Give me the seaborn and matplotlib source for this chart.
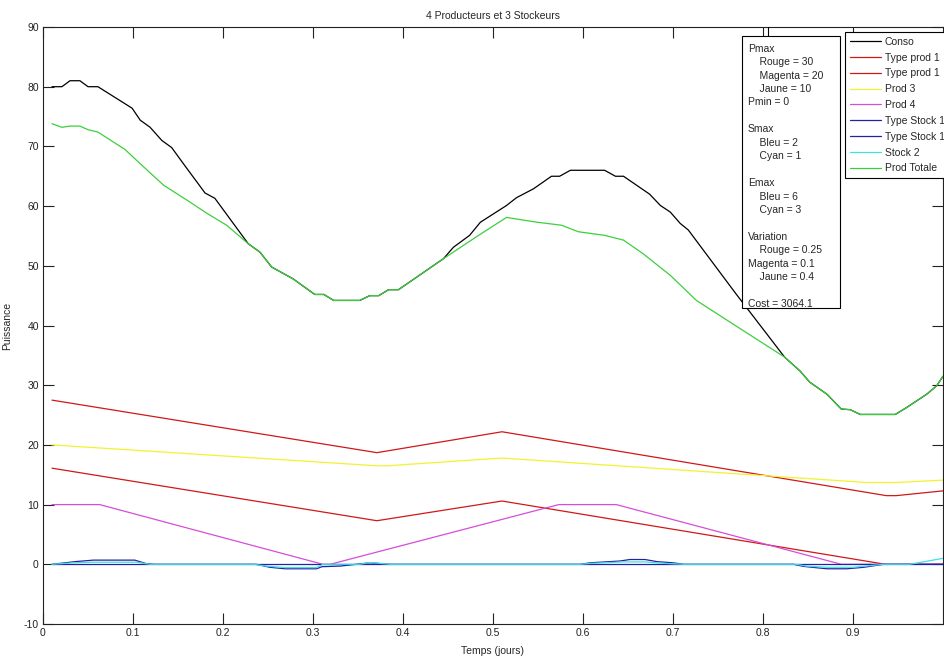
import numpy as np
import matplotlib
matplotlib.use("Agg")
from matplotlib import pyplot as plt
from matplotlib.patches import Rectangle
import seaborn as sns

# Conso (demande)
conso_t = [0.01, 0.021, 0.03, 0.041, 0.05, 0.061, 0.099, 0.108, 0.119, 0.132, 0.143, 0.156,
           0.180, 0.191, 0.228, 0.241, 0.254, 0.278, 0.302, 0.312, 0.323, 0.352, 0.363, 0.373,
           0.384, 0.395, 0.445, 0.456, 0.474, 0.486, 0.515, 0.526, 0.545, 0.565, 0.574, 0.586,
           0.624, 0.636, 0.645, 0.674, 0.686, 0.697, 0.708, 0.717, 0.770, 0.824, 0.841, 0.852,
           0.871, 0.887, 0.897, 0.908, 0.947, 0.960, 0.982, 0.993, 1.0]
conso = [80, 80, 81, 81, 80, 80, 76.4, 74.4, 73.2, 71.0, 69.8, 67.1,
         62.2, 61.3, 53.7, 52.3, 49.8, 47.8, 45.2, 45.2, 44.2, 44.2, 45.0, 45.0,
         46.0, 46.0, 51.2, 53.1, 55.1, 57.3, 60.1, 61.4, 62.9, 65.0, 65.0, 66.0,
         66.0, 65.0, 65.0, 62.0, 60.1, 59.0, 57.1, 56.0, 45.3, 34.7, 32.4, 30.5,
         28.5, 26.0, 25.9, 25.1, 25.1, 26.3, 28.5, 29.9, 31.5]

# Prod totale
tot_t = [0.01, 0.021, 0.03, 0.041, 0.05, 0.061, 0.091, 0.108, 0.134, 0.163, 0.182, 0.204,
         0.228, 0.241, 0.254, 0.278, 0.302, 0.312, 0.323, 0.352, 0.363, 0.373, 0.384, 0.395,
         0.445, 0.484, 0.515, 0.549, 0.576, 0.595, 0.624, 0.645, 0.667, 0.697, 0.726, 0.763,
         0.824, 0.841, 0.852, 0.871, 0.887, 0.897, 0.908, 0.947, 0.960, 0.982, 0.993, 1.0]
prod_tot = [73.8, 73.2, 73.4, 73.4, 72.8, 72.4, 69.5, 67.1, 63.5, 60.7, 58.8, 56.8,
            53.7, 52.3, 49.8, 47.8, 45.2, 45.2, 44.2, 44.2, 45.0, 45.0, 46.0, 46.0,
            51.2, 55.1, 58.1, 57.3, 56.8, 55.7, 55.1, 54.3, 52.0, 48.4, 44.2, 40.6,
            34.7, 32.4, 30.5, 28.5, 26.0, 25.9, 25.1, 25.1, 26.3, 28.5, 29.9, 31.5]

# producteurs
rouge1_t = [0.01, 0.371, 0.51, 0.937, 0.948, 1.0]
rouge1 = [27.5, 18.7, 22.2, 11.5, 11.5, 12.3]
rouge2_t = [0.01, 0.371, 0.51, 0.936, 1.0]
rouge2 = [16.1, 7.3, 10.6, 0, 0]
jaune_t = [0.01, 0.371, 0.382, 0.51, 0.915, 0.948, 1.0]
jaune = [20.0, 16.5, 16.5, 17.8, 13.7, 13.7, 14.1]
magenta_t = [0.01, 0.063, 0.311, 0.319, 0.573, 0.637, 0.887, 0.937, 1.0]
magenta = [10, 10, 0, 0, 10, 10, 0, 0, 0]

# stockeurs
bleu1_t = [0.01, 0.036, 0.056, 0.102, 0.115, 0.124, 0.237, 0.252, 0.269, 0.304, 0.31, 0.33,
           0.363, 0.386, 0.597, 0.608, 0.641, 0.652, 0.669, 0.682, 0.70, 0.712, 0.834, 0.845,
           0.871, 0.893, 0.912, 0.934, 1.0]
bleu1 = [0, 0.45, 0.7, 0.7, 0.1, 0, 0, -0.5, -0.75, -0.75, -0.4, -0.3,
         0.25, 0, 0, 0.25, 0.55, 0.8, 0.8, 0.45, 0.25, 0, 0, -0.35,
         -0.75, -0.75, -0.5, 0, 0]
bleu2_t = [0.01, 1.0]
bleu2 = [0, 0]
cyan_t = [0.01, 0.034, 0.056, 0.104, 0.119, 0.234, 0.248, 0.269, 0.304, 0.311, 0.352, 0.363,
          0.386, 0.597, 0.608, 0.645, 0.669, 0.685, 0.712, 0.837, 0.848, 0.871, 0.9, 0.934,
          0.963, 1.0]
cyan = [0, 0.25, 0.35, 0.35, 0, 0, -0.3, -0.55, -0.55, 0, 0, 0.3,
        0, 0, 0.15, 0.4, 0.4, 0.2, 0, 0, -0.3, -0.5, -0.5, 0,
        0, 1.0]

xticks = [0, 0.1, 0.2, 0.3, 0.4, 0.5, 0.6, 0.7, 0.8, 0.9]
yticks = [-10, 0, 10, 20, 30, 40, 50, 60, 70, 80, 90]

info = ("Pmax\n    Rouge = 30\n    Magenta = 20\n    Jaune = 10\nPmin = 0\n\n"
        "Smax\n    Bleu = 2\n    Cyan = 1\n\n"
        "Emax\n    Bleu = 6\n    Cyan = 3\n\n"
        "Variation\n    Rouge = 0.25\nMagenta = 0.1\n    Jaune = 0.4\n\n"
        "Cost = 3064.1")

sns.set_style("ticks")
plt.rcParams['font.family'] = ['Liberation Sans', 'DejaVu Sans']
plt.rcParams['xtick.direction'] = 'in'
plt.rcParams['ytick.direction'] = 'in'
plt.rcParams['axes.unicode_minus'] = False

FS = 7.5

fig = plt.figure(figsize=(9.45, 6.61), dpi=100)
ax = fig.add_axes([43 / 945, 1 - 624 / 661, 900 / 945, 597 / 661])

series = [
    (conso_t, conso, '#000000', 'Conso'),
    (rouge1_t, rouge1, '#d01818', 'Type prod 1'),
    (rouge2_t, rouge2, '#d01818', 'Type prod 1'),
    (jaune_t, jaune, '#f2f230', 'Prod 3'),
    (magenta_t, magenta, '#d64ed6', 'Prod 4'),
    (bleu1_t, bleu1, '#2222a8', 'Type Stock 1'),
    (bleu2_t, bleu2, '#2222a8', 'Type Stock 1'),
    (cyan_t, cyan, '#3ee0e0', 'Stock 2'),
    (tot_t, prod_tot, '#3ccf3c', 'Prod Totale'),
]
for t, v, c, lab in series:
    sns.lineplot(x=t, y=v, color=c, label=lab, lw=0.9, ax=ax, legend=False)

ax.set_xlim(0, 1)
ax.set_ylim(-10, 90)
ax.set_xticks(xticks)
ax.set_xticklabels([f"{x:g}" for x in xticks])
ax.set_yticks(yticks)
ax.tick_params(which='both', top=True, right=True, length=8, width=0.8,
               labelsize=FS, pad=3, colors='#222222')
for s in ax.spines.values():
    s.set_linewidth(0.8)
    s.set_color('#222222')

ax.set_title("4 Producteurs et 3 Stockeurs", fontsize=FS, pad=6)
ax.set_xlabel("Temps (jours)", fontsize=FS, labelpad=6)
ax.set_ylabel("Puissance", fontsize=FS)
ax.yaxis.set_label_coords(-0.034, 0.5)

# boite d'info
ax.add_patch(Rectangle((0.7767, 0.529), 0.1089, 0.456, transform=ax.transAxes,
                       fc='white', ec='black', lw=0.8, zorder=5))
ax.plot([0.8056, 0.8056], [0.985, 1.0], color='black', lw=0.8, transform=ax.transAxes,
        zorder=5)
ax.text(0.783, 0.972, info, transform=ax.transAxes, va='top', ha='left', fontsize=FS,
        linespacing=1.43, zorder=6)

leg = ax.legend(loc='upper left', bbox_to_anchor=(845 / 945, 1 - 32 / 661),
                bbox_transform=fig.transFigure, fontsize=FS, frameon=True, fancybox=False,
                handlelength=3.0, handletextpad=0.35, labelspacing=0.56, borderpad=0.45,
                borderaxespad=0)
leg.get_frame().set_edgecolor('black')
leg.get_frame().set_linewidth(0.8)
leg.get_frame().set_alpha(1)

fig.savefig("out.png", dpi=100)
